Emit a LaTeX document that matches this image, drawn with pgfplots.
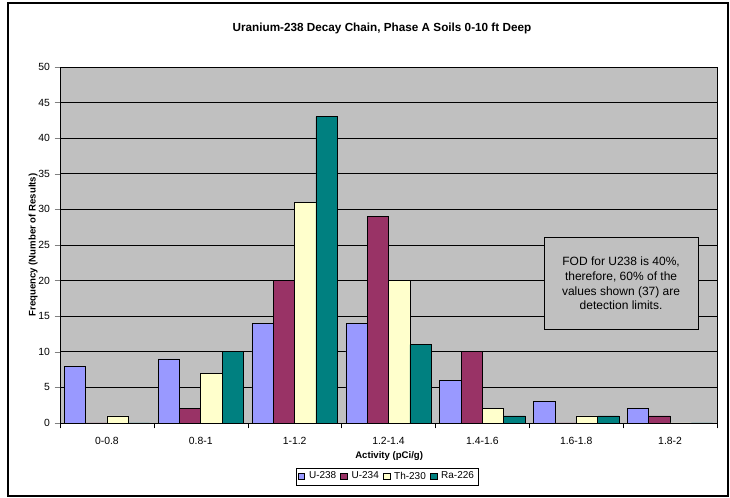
\documentclass[border=0pt]{standalone}
\usepackage{pgfplots}
\pgfplotsset{compat=1.18}
\usepackage{fontspec}
\setmainfont{Liberation Sans}
\definecolor{cU}{HTML}{9999FF}
\definecolor{cUb}{HTML}{993366}
\definecolor{cTh}{HTML}{FFFFCC}
\definecolor{cRa}{HTML}{008080}
\definecolor{bg}{HTML}{C0C0C0}
\begin{document}
\begin{tikzpicture}
\begin{axis}[name=ax,
  scale only axis, width=492.75pt, height=267pt,
  axis background/.style={fill=bg},
  ymin=0, ymax=50, ytick={0,5,...,50},
  xmin=-0.5, xmax=6.5,
  xtick={0,...,6},
  xticklabels={0-0.8,0.8-1,1-1.2,1.2-1.4,1.4-1.6,1.6-1.8,1.8-2},
  minor xtick={-0.5,0.5,...,6.5},
  major x tick style={draw=none},
  minor x tick style={black},
  tick align=outside, tick pos=left,
  major tick length=4pt, minor tick length=4pt,
  ymajorgrids, grid style={black, line width=0.6pt},
  axis line style={black, line width=0.6pt},
  ybar=0pt, bar width=16pt,
  /pgf/number format/assume math mode=true,
  tick label style={font=\fontsize{7.8}{9}\selectfont},
  xticklabel style={yshift=-3pt},
  title={\bfseries Uranium-238 Decay Chain, Phase A Soils 0-10 ft Deep},
  every axis title shift=0pt,
  title style={font=\fontsize{8.8}{10}\selectfont, at={(axis description cs:0.49,1.107)}, anchor=center, yshift=0pt},
  xlabel={\bfseries Activity (pCi/g)},
  ylabel={\bfseries Frequency (Number of Results)},
  label style={font=\fontsize{7.2}{8}\selectfont},
  xlabel style={at={(axis description cs:0.501,-0.0927)}, anchor=center},
  ylabel style={at={(axis description cs:-0.041,0.5)}, anchor=center},
  legend style={at={(axis description cs:0.498,-0.150)}, anchor=center,
    legend columns=-1, font=\fontsize{7.5}{9}\selectfont, draw=black,
    inner sep=1pt, column sep=1pt,
    /tikz/every even column/.append style={column sep=1pt}},
  legend image code/.code={\draw[#1, draw=black] (0cm,-2.5pt) rectangle (5pt,2.5pt);},
]
\addplot[fill=cU, draw=black, line width=0.5pt] coordinates {(0,8) (1,9) (2,14) (3,14) (4,6) (5,3) (6,2)};
\addplot[fill=cUb, draw=black, line width=0.5pt] coordinates {(0,0) (1,2) (2,20) (3,29) (4,10) (5,0) (6,1)};
\addplot[fill=cTh, draw=black, line width=0.5pt] coordinates {(0,1) (1,7) (2,31) (3,20) (4,2) (5,1) (6,0)};
\addplot[fill=cRa, draw=black, line width=0.5pt] coordinates {(0,0) (1,10) (2,43) (3,11) (4,1) (5,1) (6,0)};
\legend{U-238,U-234,Th-230,Ra-226}
\draw[fill=bg, draw=black, line width=0.6pt] (rel axis cs:0.737,0.264) rectangle (rel axis cs:0.971,0.520);
\node[align=center, font=\fontsize{9}{11}\selectfont] at (rel axis cs:0.854,0.392)
  {FOD for U238 is 40\%,\\therefore, 60\% of the\\values shown (37) are\\detection limits.};
\end{axis}
\draw[line width=1pt] ([shift={(-39pt,-54.75pt)}]ax.south west) rectangle ([shift={(8.25pt,48pt)}]ax.north east);
\path ([shift={(-45pt,-56.25pt)}]ax.south west) rectangle ([shift={(9.75pt,50.25pt)}]ax.north east);
\end{tikzpicture}
\end{document}
